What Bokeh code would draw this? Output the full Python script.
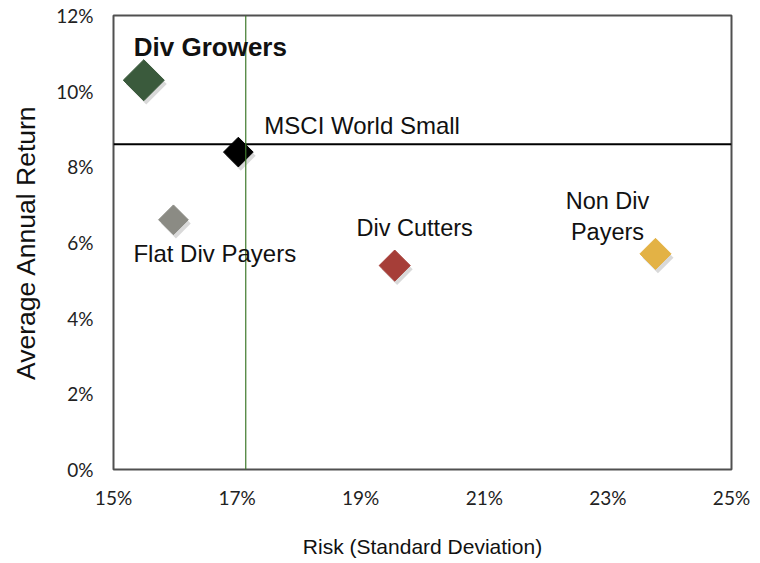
from bokeh.plotting import figure
from bokeh.models import Span, Label, FixedTicker, ColumnDataSource
from bokeh.transform import dodge
from bokeh.embed import file_html
from bokeh.resources import INLINE
import math

# ---- data ----
groups = ["Div Growers", "MSCI World Small", "Flat Div Payers", "Div Cutters", "Non Div Payers"]
risk = [15.49, 17.02, 15.97, 19.55, 23.77]          # standard deviation, %
annual_return = [10.29, 8.39, 6.60, 5.39, 5.70]     # average annual return, %
benchmark_risk_line = 17.14
benchmark_return_line = 8.60

x_ticks = [15, 17, 19, 21, 23, 25]
x_tick_labels = ["15%", "17%", "19%", "21%", "23%", "25%"]
y_ticks = [0, 2, 4, 6, 8, 10, 12]
y_tick_labels = ["0%", "2%", "4%", "6%", "8%", "10%", "12%"]

# ---- styles ----
colors = ["#3a5a3c", "#000000", "#8b8b84", "#a63e38", "#e3b245"]
sizes = [29, 21, 21, 22, 22]
label_texts = ["Div Growers", "MSCI World Small", "Flat Div Payers", "Div Cutters", "Non Div\nPayers"]
label_style = [
    dict(x_offset=-10, y_offset=33, text_align="left", text_font_style="bold", text_font_size="26px"),
    dict(x_offset=26, y_offset=27, text_align="left", text_font_style="normal", text_font_size="24px"),
    dict(x_offset=-40, y_offset=-34, text_align="left", text_font_style="normal", text_font_size="24px"),
    dict(x_offset=20, y_offset=38, text_align="center", text_font_style="normal", text_font_size="23.5px"),
    dict(x_offset=-48, y_offset=37, text_align="center", text_font_style="normal", text_font_size="23.5px"),
]

p = figure(width=752, height=560, x_range=(15, 25), y_range=(0, 12),
           output_backend="svg", toolbar_location=None,
           min_border_left=113, min_border_right=21, min_border_top=15, min_border_bottom=90)
p.background_fill_color = "white"
p.border_fill_color = "white"
p.outline_line_color = "#505050"
p.outline_line_width = 2
p.xgrid.visible = False
p.ygrid.visible = False

src = ColumnDataSource(dict(x=risk, y=annual_return, c=colors, s=sizes, name=groups))

# soft shadows
p.scatter(x=dodge("x", 0.04), y=dodge("y", -0.1), source=src, marker="square", size="s",
          angle=math.pi / 4, fill_color="#777777", fill_alpha=0.28, line_color=None)

# benchmark lines
p.add_layout(Span(location=benchmark_return_line, dimension="width", line_color="black", line_width=2))
p.add_layout(Span(location=benchmark_risk_line, dimension="height", line_color="#3f7a2c", line_width=1.2))

p.scatter(x="x", y="y", source=src, marker="square", size="s", angle=math.pi / 4,
          fill_color="c", line_color="c")

for xi, yi, t, st in zip(risk, annual_return, label_texts, label_style):
    p.add_layout(Label(x=xi, y=yi, text=t, text_baseline="middle",
                       text_font="Liberation Sans", text_color="#111111", **st))

for ax in (p.xaxis[0], p.yaxis[0]):
    ax.axis_line_color = None
    ax.major_tick_line_color = None
    ax.minor_tick_line_color = None
    ax.major_label_text_font = "Lato"
    ax.major_label_text_font_size = "19px"
    ax.major_label_text_color = "#222222"
    ax.axis_label_text_font = "Liberation Sans"
    ax.axis_label_text_font_style = "normal"
    ax.axis_label_text_color = "#111111"

p.xaxis.ticker = FixedTicker(ticks=x_ticks)
p.xaxis.major_label_overrides = dict(zip(x_ticks, x_tick_labels))
p.yaxis.ticker = FixedTicker(ticks=y_ticks)
p.yaxis.major_label_overrides = dict(zip(y_ticks, y_tick_labels))

p.xaxis.axis_label = "Risk (Standard Deviation)"
p.xaxis.axis_label_text_font_size = "21px"
p.xaxis.major_label_standoff = 10
p.xaxis.axis_label_standoff = 23

p.yaxis.axis_label = "Average Annual Return"
p.yaxis.axis_label_text_font_size = "26.5px"
p.yaxis.major_label_standoff = 14
p.yaxis.axis_label_standoff = 12

open("out.html", "w").write(file_html(p, INLINE))
